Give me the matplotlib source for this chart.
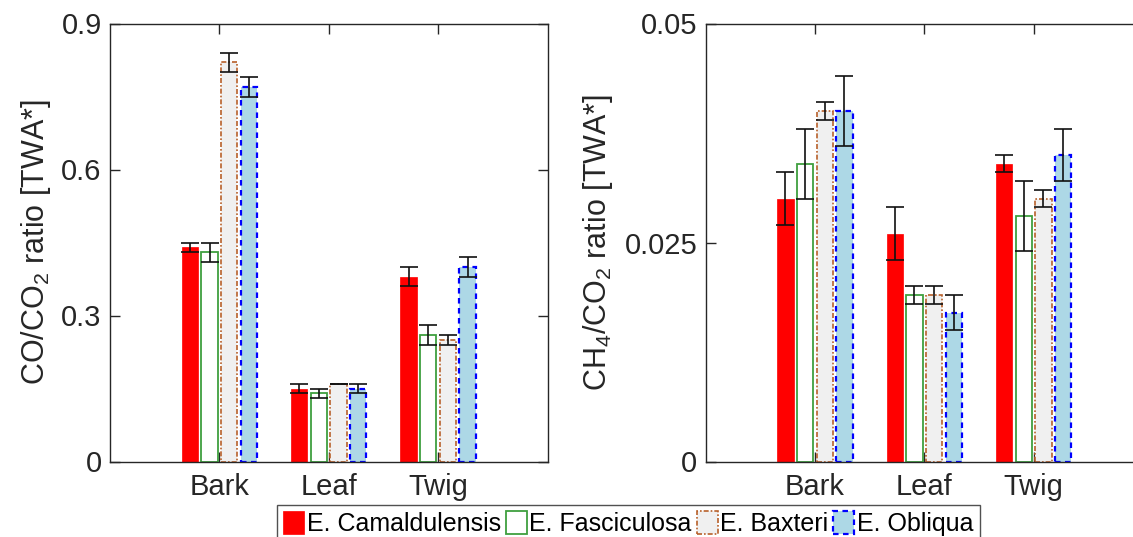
import numpy as np
import matplotlib
matplotlib.use("Agg")
import matplotlib.pyplot as plt

plt.rcParams["font.family"] = ["Liberation Sans", "DejaVu Sans"]
plt.rcParams["mathtext.fontset"] = "custom"
plt.rcParams["mathtext.rm"] = "Liberation Sans"
plt.rcParams["mathtext.it"] = "Liberation Sans:italic"

# sample types and species
parts = ["Bark", "Leaf", "Twig"]
species = ["E. Camaldulensis", "E. Fasciculosa", "E. Baxteri", "E. Obliqua"]

# CO/CO2 ratio (mean, error) per species, order Bark, Leaf, Twig
co_camaldulensis = [0.44, 0.15, 0.38]
co_fasciculosa = [0.43, 0.14, 0.26]
co_baxteri = [0.82, 0.16, 0.25]
co_obliqua = [0.77, 0.15, 0.40]
co_err_camaldulensis = [0.01, 0.01, 0.02]
co_err_fasciculosa = [0.02, 0.01, 0.02]
co_err_baxteri = [0.02, 0.0, 0.01]
co_err_obliqua = [0.02, 0.01, 0.02]

# CH4/CO2 ratio (mean, error)
ch4_camaldulensis = [0.030, 0.026, 0.034]
ch4_fasciculosa = [0.034, 0.019, 0.028]
ch4_baxteri = [0.040, 0.019, 0.030]
ch4_obliqua = [0.040, 0.017, 0.035]
ch4_err_camaldulensis = [0.003, 0.003, 0.001]
ch4_err_fasciculosa = [0.004, 0.001, 0.004]
ch4_err_baxteri = [0.001, 0.001, 0.001]
ch4_err_obliqua = [0.004, 0.002, 0.003]

co_means = [co_camaldulensis, co_fasciculosa, co_baxteri, co_obliqua]
co_errs = [co_err_camaldulensis, co_err_fasciculosa, co_err_baxteri, co_err_obliqua]
ch4_means = [ch4_camaldulensis, ch4_fasciculosa, ch4_baxteri, ch4_obliqua]
ch4_errs = [ch4_err_camaldulensis, ch4_err_fasciculosa, ch4_err_baxteri, ch4_err_obliqua]

styles = [
    dict(facecolor="#ff0000", edgecolor="#ff0000", linewidth=0.5, linestyle="-"),
    dict(facecolor="white", edgecolor="#3f9f3f", linewidth=1.3, linestyle="-"),
    dict(facecolor="#f0f0f0", edgecolor="#b8602a", linewidth=1.2, linestyle=(0, (3, 1.2, 1, 1.2))),
    dict(facecolor="#add8e6", edgecolor="#0000ff", linewidth=1.6, linestyle=(0, (2.5, 2))),
]

offsets = [-0.27, -0.09, 0.09, 0.27]
bar_w = 0.15
ink = "#262626"

W, H = 1133, 537
fig = plt.figure(figsize=(W / 100, H / 100), dpi=100)
ax1 = fig.add_axes([110 / W, (H - 461.5) / H, 437.5 / W, 438 / H])
ax2 = fig.add_axes([705.5 / W, (H - 461.5) / H, 437.5 / W, 438 / H])

x = np.arange(1, len(parts) + 1)


def draw(ax, means, errs, ylim, yticks, yticklabels, ylabel, label_x):
    handles = []
    for k in range(len(species)):
        b = ax.bar(x + offsets[k], means[k], bar_w, label=species[k], zorder=2, **styles[k])
        handles.append(b)
        ax.errorbar(x + offsets[k], means[k], yerr=errs[k], fmt="none", ecolor="#111111",
                    elinewidth=1.2, capsize=6.3, capthick=1.2, zorder=3)
    ax.set_xlim(0, 4)
    ax.set_ylim(*ylim)
    ax.set_xticks(x)
    ax.set_xticklabels(parts)
    ax.set_yticks(yticks)
    ax.set_yticklabels(yticklabels)
    ax.set_axisbelow(True)
    ax.tick_params(direction="in", length=7, width=1, colors=ink, labelsize=21,
                   top=True, right=True)
    ax.tick_params(axis="y", pad=6)
    ax.tick_params(axis="x", pad=8)
    for s in ax.spines.values():
        s.set_color(ink)
        s.set_linewidth(1)
    ax.set_ylabel(ylabel, fontsize=22, color=ink)
    ax.yaxis.set_label_coords(label_x, 0.5)
    return handles


handles = draw(ax1, co_means, co_errs, (0, 0.9), [0, 0.3, 0.6, 0.9],
               ["0", "0.3", "0.6", "0.9"], r"CO/CO$_2$ ratio [TWA*]", -0.130)
draw(ax2, ch4_means, ch4_errs, (0, 0.05), [0, 0.025, 0.05],
     ["0", "0.025", "0.05"], r"CH$_4$/CO$_2$ ratio [TWA*]", -0.207)

leg = fig.legend(handles, species, loc="upper left", bbox_to_anchor=(277 / W, 1 - 505 / H),
                 bbox_transform=fig.transFigure, ncol=4, fontsize=18, frameon=True,
                 fancybox=False, handlelength=0.84, handleheight=1.0, handletextpad=0.1,
                 columnspacing=0.2, borderpad=0.25, borderaxespad=0)
leg.get_frame().set_edgecolor(ink)
leg.get_frame().set_linewidth(1)

fig.savefig("out.png", dpi=100)
